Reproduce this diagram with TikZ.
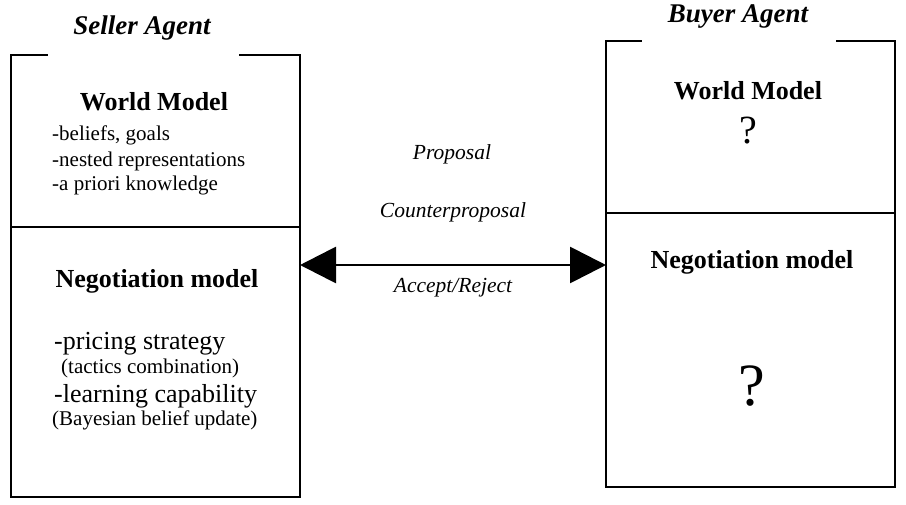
\documentclass[tikz,border=0pt]{standalone}
\usepackage{fontspec}
\setmainfont{Liberation Serif}
\usetikzlibrary{positioning,arrows.meta}
\newcommand{\fsz}[1]{\fontsize{#1}{#1}\selectfont}
\tikzset{
  part/.style={inner sep=0pt, outer sep=0pt},
  frame/.style={line width=1.7pt, line cap=rect},
  agent/.style={font=\fsz{27}\bfseries\itshape, inner sep=0pt},
  head/.style={font=\fsz{26}\bfseries, inner sep=0pt},
  item/.style={font=\fsz{21}, anchor=west, inner sep=0pt},
  bigitem/.style={font=\fsz{26}, anchor=west, inner sep=0pt},
  msg/.style={font=\fsz{21.5}\itshape, inner sep=0pt},
  qmark/.style={inner sep=0pt},
  talk/.style={{Triangle[length=36pt, width=36pt]}-{Triangle[length=36pt, width=36pt]},
               line width=2.8pt},
}

\begin{document}
\begin{tikzpicture}[x=1pt, y=-1pt]
\useasboundingbox (0,0) rectangle (906,504);

%% ── seller agent, left ───────────────────────────────────────────────────
\node[agent] (sellerlbl) at (142,28) {Seller Agent};
\node[part, minimum width=289, minimum height=172, anchor=north west]
  (sworld) at (11,55) {};
\node[part, minimum width=289, minimum height=270, anchor=north west]
  (sneg) at (11,227) {};
\draw[frame] ([xshift=36]sworld.north west) -- (sworld.north west)
  -- (sneg.south west) -- (sneg.south east) -- (sworld.north east)
  -- ([xshift=-60]sworld.north east);
\draw[frame] (sworld.south west) -- (sworld.south east);

\node[head] (swtitle) at (154,102) {World Model};
\node[item] (sw1) at (52,135) {-beliefs, goals};
\node[item] (sw2) at (52,161) {-nested representations};
\node[item] (sw3) at (52,185) {-a priori knowledge};

\node[head] (sntitle) at (157,281) {Negotiation model};
\node[bigitem] (sn1) at (54,344) {-pricing strategy};
\node[item] (sn2) at (61,368) {(tactics combination)};
\node[bigitem] (sn3) at (54,396) {-learning capability};
\node[item] (sn4) at (52,420) {(Bayesian belief update)};

%% ── buyer agent, right ───────────────────────────────────────────────────
\node[agent] (buyerlbl) at (738,16) {Buyer Agent};
\node[part, minimum width=289, minimum height=172, anchor=north west]
  (bworld) at (606,41) {};
\node[part, minimum width=289, minimum height=274, anchor=north west]
  (bneg) at (606,213) {};
\draw[frame] ([xshift=35]bworld.north west) -- (bworld.north west)
  -- (bneg.south west) -- (bneg.south east) -- (bworld.north east)
  -- ([xshift=-58]bworld.north east);
\draw[frame] (bworld.south west) -- (bworld.south east);

\node[head] (bwtitle) at (748,91) {World Model};
\node[qmark, font=\fsz{40}] (bwq) at (748,131) {?};
\node[head] (bntitle) at (752,262) {Negotiation model};
\node[qmark, font=\fsz{60}] (bnq) at (752,386) {?};

%% ── messages between them ────────────────────────────────────────────────
\draw[talk] (sneg.east |- 0,265) -- (bneg.west |- 0,265);
\node[msg] (prop) at (452,154) {Proposal};
\node[msg] (cprop) at (453,212) {Counterproposal};
\node[msg] (accrej) at (453,288) {Accept/Reject};

\end{tikzpicture}
\end{document}
